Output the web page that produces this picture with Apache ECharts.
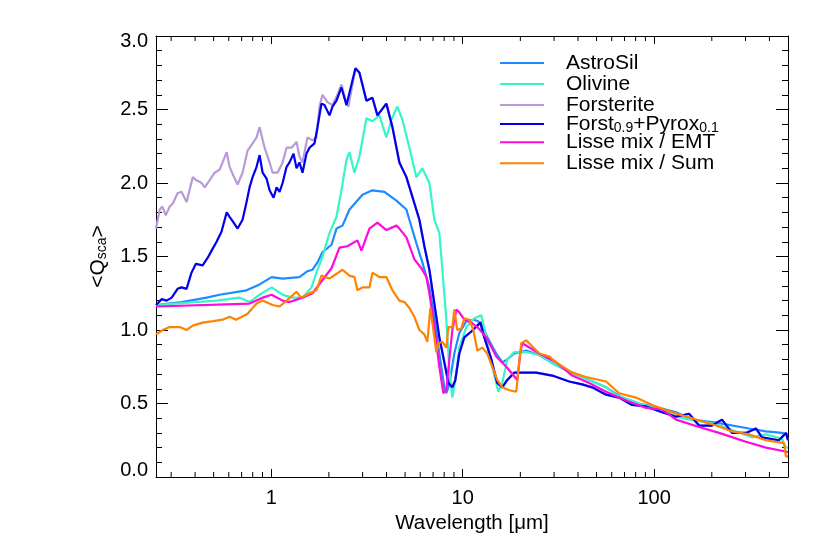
<!DOCTYPE html>
<html>
<head>
<meta charset="utf-8">
<script src="https://cdn.jsdelivr.net/npm/echarts@6/dist/echarts.min.js"></script>
<style>
  html, body { margin: 0; padding: 0; background: #fff; }
  #chart { width: 822px; height: 548px; }
</style>
</head>
<body>
<div id="chart"></div>
<script>
// [wavelength (um), <Q_sca>]
const astroSil = [
  [0.25,1.17],[0.34,1.19],[0.46,1.22],[0.537,1.24],[0.743,1.27],[0.869,1.31],[1.004,1.36],[1.146,1.35],
  [1.404,1.36],[1.545,1.40],[1.642,1.41],[1.744,1.46],[1.852,1.53],[2.064,1.58],[2.191,1.69],[2.355,1.71],
  [2.562,1.82],[2.994,1.92],[3.377,1.95],[3.899,1.94],[4.504,1.88],[5.079,1.82],[5.265,1.75],[5.728,1.59],
  [6.154,1.46],[6.696,1.29],[7.11,1.09],[7.548,0.84],[8.017,0.61],[8.212,0.57],[8.513,0.63],[9.041,0.84],
  [9.6,0.98],[10.44,1.06],[11.5,1.07],[12.5,1.05],[13.44,0.95],[14.97,0.84],[16.1,0.78],[17.09,0.80],
  [18.59,0.84],[21.47,0.86],[25.1,0.83],[30.78,0.76],[37.31,0.71],[45.76,0.66],[56.11,0.61],[68.02,0.54],
  [83.41,0.50],[106.1,0.47],[130.1,0.44],[157.7,0.39],[210.3,0.37],[312.6,0.33],[383.5,0.31],[464.7,0.30],
  [500,0.29]
];
const olivine = [
  [0.25,1.17],[0.518,1.20],[0.684,1.22],[0.77,1.19],[0.869,1.24],[1.004,1.29],[1.146,1.24],[1.291,1.22],
  [1.456,1.22],[1.622,1.29],[1.722,1.39],[1.852,1.50],[2.014,1.66],[2.191,1.77],[2.326,1.95],[2.471,2.16],
  [2.562,2.21],[2.719,2.07],[2.888,2.18],[3.141,2.44],[3.377,2.42],[3.672,2.46],[3.991,2.31],[4.242,2.43],
  [4.559,2.52],[4.842,2.43],[5.265,2.24],[5.728,2.04],[6.154,2.10],[6.696,2.00],[7.11,1.75],[7.548,1.66],
  [7.829,1.41],[8.212,1.07],[8.513,0.73],[8.825,0.54],[9.15,0.66],[9.6,0.88],[10.44,1.02],[11.5,1.08],
  [12.5,1.10],[13.28,0.95],[14.27,0.75],[15.34,0.58],[16.1,0.64],[17.09,0.80],[18.59,0.85],[21.47,0.85],
  [25.1,0.83],[30.78,0.76],[37.31,0.71],[45.76,0.66],[56.11,0.61],[63.26,0.56],[83.41,0.50],[106.1,0.46],
  [139.8,0.40],[210.3,0.36],[255.0,0.32],[324.1,0.27],[383.5,0.29],[464.7,0.26],[487.6,0.20],[500,0.20]
];
const forsterite = [
  [0.25,1.69],[0.2615,1.82],[0.27,1.84],[0.281,1.78],[0.295,1.84],[0.306,1.86],[0.324,1.93],[0.34,1.94],
  [0.361,1.87],[0.389,2.04],[0.404,2.02],[0.433,2.00],[0.449,1.97],[0.477,2.02],[0.506,2.07],[0.537,2.09],
  [0.557,2.14],[0.585,2.21],[0.606,2.11],[0.644,2.03],[0.667,1.99],[0.708,2.07],[0.752,2.22],[0.799,2.27],
  [0.838,2.31],[0.869,2.38],[0.923,2.24],[0.98,2.14],[1.016,2.07],[1.079,2.07],[1.146,2.14],[1.202,2.24],
  [1.276,2.24],[1.355,2.28],[1.404,2.18],[1.456,2.14],[1.545,2.31],[1.642,2.29],[1.722,2.31],[1.786,2.52],
  [1.852,2.60],[1.966,2.55],[2.088,2.53],[2.218,2.60],[2.326,2.67],[2.471,2.54],[2.53,2.52],[2.752,2.78],
  [2.888,2.75],[3.141,2.56],[3.377,2.58],[3.585,2.46],[3.991,2.54],[4.294,2.38],[4.668,2.14],[5.079,2.04],
  [5.938,1.75],[6.305,1.57],[6.696,1.41],[7.11,1.18],[7.548,0.95],[8.017,0.78],[8.413,0.64],[8.825,0.61],
  [9.15,0.66],[9.6,0.84],[10.19,0.95],[11.09,0.99],[11.92,1.03],[12.36,1.05],[12.96,0.95],[14.11,0.80],
  [15.15,0.64],[16.1,0.61],[17.09,0.66],[18.59,0.71],[21.73,0.71],[24.21,0.71],[29.34,0.69],[35.98,0.65],
  [42.07,0.63],[47.43,0.61],[56.11,0.56],[65.61,0.54],[76.68,0.49],[90.73,0.48],[110.0,0.44],[130.1,0.41],
  [152.1,0.43],[171.5,0.35],[200.4,0.35],[226.1,0.39],[255.0,0.30],[301.6,0.30],[340.1,0.33],[365.5,0.27],
  [448.3,0.25],[487.6,0.30],[500,0.25]
];
const forstPyrox = [
  [0.25,1.17],[0.268,1.21],[0.284,1.20],[0.302,1.22],[0.324,1.28],[0.34,1.29],[0.361,1.28],[0.383,1.39],
  [0.404,1.45],[0.438,1.44],[0.465,1.49],[0.488,1.54],[0.518,1.60],[0.55,1.67],[0.585,1.80],[0.606,1.77],
  [0.636,1.73],[0.667,1.69],[0.708,1.75],[0.743,1.87],[0.77,1.97],[0.799,2.04],[0.838,2.11],[0.869,2.19],
  [0.901,2.07],[0.945,2.03],[0.98,1.95],[1.028,1.90],[1.066,1.97],[1.105,1.94],[1.146,2.00],[1.202,2.11],
  [1.246,2.14],[1.307,2.20],[1.355,2.10],[1.404,2.14],[1.456,2.07],[1.528,2.20],[1.584,2.24],[1.682,2.27],
  [1.744,2.38],[1.829,2.54],[1.897,2.53],[2.014,2.46],[2.088,2.52],[2.191,2.56],[2.326,2.65],[2.471,2.53],
  [2.53,2.52],[2.752,2.78],[2.888,2.75],[3.141,2.56],[3.377,2.58],[3.585,2.46],[3.991,2.54],[4.294,2.38],
  [4.668,2.14],[5.079,2.04],[5.938,1.75],[6.305,1.57],[6.696,1.41],[7.11,1.18],[7.548,0.95],[8.017,0.78],
  [8.413,0.64],[8.825,0.61],[9.15,0.66],[9.6,0.84],[10.19,0.95],[11.09,0.99],[11.92,1.03],[12.36,1.05],
  [12.96,0.95],[14.11,0.80],[15.15,0.64],[16.1,0.61],[17.09,0.66],[18.59,0.71],[21.73,0.71],[24.21,0.71],
  [29.34,0.69],[35.98,0.65],[42.07,0.63],[47.43,0.61],[56.11,0.56],[65.61,0.54],[76.68,0.49],[90.73,0.48],
  [110.0,0.44],[130.1,0.41],[152.1,0.43],[171.5,0.35],[200.4,0.35],[226.1,0.39],[255.0,0.30],[301.6,0.30],
  [340.1,0.33],[365.5,0.27],[448.3,0.25],[487.6,0.30],[500,0.25]
];
const lisseEmt = [
  [0.25,1.16],[0.77,1.18],[0.901,1.22],[1.004,1.24],[1.146,1.20],[1.246,1.19],[1.456,1.22],[1.642,1.25],
  [1.852,1.34],[2.064,1.42],[2.271,1.56],[2.5,1.57],[2.818,1.61],[2.958,1.54],[3.257,1.69],[3.585,1.73],
  [3.991,1.68],[4.504,1.71],[4.668,1.69],[5.079,1.63],[5.593,1.48],[6.081,1.42],[6.457,1.36],[6.696,1.25],
  [7.11,1.02],[7.548,0.75],[7.923,0.57],[8.212,0.59],[8.513,0.80],[8.825,1.00],[9.261,1.14],[9.6,1.12],
  [10.19,1.07],[11.09,1.05],[11.92,1.02],[13.28,0.95],[14.97,0.82],[16.89,0.75],[19.27,0.66],[19.97,0.84],
  [20.46,0.91],[25.1,0.84],[30.78,0.78],[37.31,0.69],[45.76,0.64],[56.11,0.58],[71.36,0.52],[90.73,0.47],
  [110.0,0.46],[130.1,0.39],[171.5,0.34],[218.1,0.30],[301.6,0.24],[383.5,0.20],[500,0.17]
];
const lisseSum = [
  [0.25,0.97],[0.271,1.00],[0.295,1.02],[0.333,1.02],[0.361,1.00],[0.389,1.03],[0.438,1.05],[0.497,1.06],
  [0.557,1.07],[0.606,1.09],[0.655,1.07],[0.752,1.11],[0.838,1.18],[0.901,1.20],[1.016,1.17],[1.105,1.16],
  [1.202,1.20],[1.355,1.26],[1.43,1.22],[1.584,1.25],[1.722,1.27],[1.829,1.37],[2.014,1.35],[2.355,1.41],
  [2.562,1.37],[2.719,1.36],[2.818,1.27],[2.994,1.29],[3.257,1.29],[3.377,1.39],[3.672,1.36],[3.991,1.36],
  [4.294,1.27],[4.668,1.20],[4.96,1.19],[5.265,1.15],[5.593,1.09],[5.938,1.00],[6.305,0.97],[6.536,0.92],
  [6.776,1.15],[6.94,1.05],[7.282,0.85],[7.461,0.91],[7.829,0.92],[8.212,0.88],[8.413,1.02],[8.825,1.02],
  [9.041,1.14],[9.371,1.00],[9.834,1.01],[10.19,1.08],[10.83,1.07],[11.36,1.00],[11.92,0.86],[12.66,0.88],
  [13.44,0.84],[14.27,0.75],[15.15,0.66],[16.1,0.61],[17.5,0.59],[19.04,0.58],[20.21,0.91],[21.47,0.93],
  [25.1,0.84],[28.3,0.82],[30.78,0.78],[37.31,0.71],[44.13,0.68],[56.11,0.65],[65.61,0.57],[80.46,0.54],
  [97.5,0.49],[124.0,0.44],[157.7,0.40],[210.3,0.35],[255.0,0.31],[312.6,0.29],[383.5,0.25],[476.0,0.23],
  [487.6,0.14],[500,0.14]
];

const seriesNames = ['AstroSil', 'Olivine', 'Forsterite', 'Forst+Pyrox', 'Lisse mix / EMT', 'Lisse mix / Sum'];
const seriesColors = ['#1e8cff', '#38f5c8', '#b99ad9', '#0000ec', '#ff0adc', '#ff8200'];
const seriesData = [astroSil, olivine, forsterite, forstPyrox, lisseEmt, lisseSum];

const xMin = 0.25, xMax = 500;
const xLabels = [1, 10, 100];
const xMinorTicks = [0.3,0.4,0.5,0.6,0.7,0.8,0.9,2,3,4,5,6,7,8,9,20,30,40,50,60,70,80,90,200,300,400];
const yMin = 0, yMax = 3, yStep = 0.5;

const FONT = '"Liberation Sans", Arial, Helvetica, sans-serif';

const chart = echarts.init(document.getElementById('chart'));

const axisLine = { show: true, onZero: false, lineStyle: { color: '#000', width: 1 } };

const lines = seriesData.map((d, i) => ({
  name: seriesNames[i],
  type: 'line',
  data: d,
  xAxisIndex: 0,
  yAxisIndex: 0,
  symbol: 'none',
  showSymbol: false,
  smooth: false,
  lineStyle: { width: 2.2, color: seriesColors[i] },
  itemStyle: { color: seriesColors[i] },
  z: 2 + i
}));

// minor ticks of the log axes (bottom and top)
const minorTickSeries = {
  type: 'custom',
  xAxisIndex: 0,
  yAxisIndex: 0,
  silent: true,
  clip: false,
  z: 10,
  data: xMinorTicks.map(v => [v, yMin]),
  renderItem(params, api) {
    const b = api.coord([api.value(0), yMin]);
    const t = api.coord([api.value(0), yMax]);
    const st = { stroke: '#000', lineWidth: 1 };
    return {
      type: 'group',
      children: [
        { type: 'line', shape: { x1: b[0], y1: b[1], x2: b[0], y2: b[1] - 5 }, style: st },
        { type: 'line', shape: { x1: t[0], y1: t[1], x2: t[0], y2: t[1] + 5 }, style: st }
      ]
    };
  }
};

function yLabel(v) {
  const s = v.toFixed(1);
  if (v === yMin) return '{bot|' + s + '}';
  if (v === yMax) return '{top|' + s + '}';
  return s;
}

const yAxisBase = {
  type: 'value',
  min: yMin,
  max: yMax,
  interval: yStep,
  axisLine,
  axisTick: { show: true, inside: true, length: 12, lineStyle: { color: '#000' } },
  minorTick: { show: true, splitNumber: 5, length: 6, lineStyle: { color: '#000' } },
  splitLine: { show: false },
  minorSplitLine: { show: false }
};

const xAxisBase = {
  type: 'log',
  logBase: 10,
  min: xMin,
  max: xMax,
  axisLine,
  axisTick: { show: true, inside: true, length: 8, lineStyle: { color: '#000' } },
  splitLine: { show: false }
};

// legend split in three blocks so the subscript row keeps the row pitch
function legendBlock(names, top) {
  return {
    data: names.map(n => ({ name: n, icon: 'rect' })),
    orient: 'vertical',
    left: 500,
    top: top,
    padding: 0,
    itemWidth: 44,
    itemHeight: 2,
    itemGap: 0,
    selectedMode: false,
    textStyle: {
      fontFamily: FONT,
      fontSize: 21,
      color: '#000',
      lineHeight: 19.7,
      padding: [0, 0, 0, 17],
      rich: {
        m: { fontFamily: FONT, fontSize: 21, color: '#000', lineHeight: 19.7 },
        s: { fontFamily: FONT, fontSize: 14, color: '#000', padding: [9, 0, 0, 0] }
      }
    },
    formatter(name) {
      if (name === 'Forst+Pyrox') return '{m|Forst}{s|0.9}{m|+Pyrox}{s|0.1}';
      return name;
    }
  };
}

chart.setOption({
  animation: false,
  backgroundColor: '#fff',
  textStyle: { fontFamily: FONT },
  grid: { left: 156, right: 34, top: 36, bottom: 71 },
  legend: [
    legendBlock(seriesNames.slice(0, 3), 52.4),
    legendBlock(seriesNames.slice(3, 4), 113.6),
    legendBlock(seriesNames.slice(4), 131.8)
  ],
  xAxis: [
    Object.assign({}, xAxisBase, {
      position: 'bottom',
      name: 'Wavelength [\u03bcm]',
      nameLocation: 'middle',
      nameGap: 33,
      nameTextStyle: { fontFamily: FONT, fontSize: 20.5, color: '#000' },
      axisLabel: {
        show: true,
        margin: 11,
        fontFamily: FONT,
        fontSize: 20,
        color: '#000',
        formatter(v) {
          const hit = xLabels.find(t => Math.abs(t - v) / t < 1e-6);
          return hit ? String(hit) : '';
        }
      }
    }),
    Object.assign({}, xAxisBase, {
      position: 'top',
      axisLabel: { show: false }
    })
  ],
  yAxis: [
    Object.assign({}, yAxisBase, {
      position: 'left',
      name: '<Q{s|sca}>',
      nameLocation: 'middle',
      nameRotate: 90,
      nameGap: 44,
      nameTextStyle: {
        fontFamily: FONT,
        fontSize: 21,
        color: '#000',
        rich: {
          s: { fontFamily: FONT, fontSize: 14, color: '#000', padding: [9, 0, 0, 0] }
        }
      },
      axisLabel: {
        show: true,
        margin: 8,
        fontFamily: FONT,
        fontSize: 20,
        color: '#000',
        formatter: yLabel,
        rich: {
          bot: { fontFamily: FONT, fontSize: 20, color: '#000', padding: [0, 0, 14, 0] },
          top: { fontFamily: FONT, fontSize: 20, color: '#000', padding: [11, 0, 0, 0] }
        }
      }
    }),
    Object.assign({}, yAxisBase, {
      position: 'right',
      axisLabel: { show: false }
    })
  ],
  series: lines.concat([minorTickSeries])
});
</script>
</body>
</html>
